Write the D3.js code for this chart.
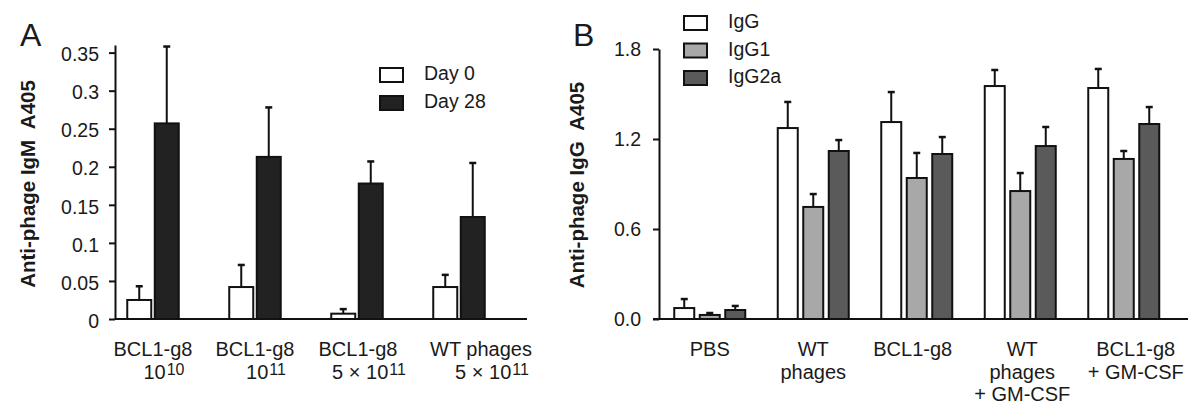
<!DOCTYPE html>
<html>
<head>
<meta charset="utf-8">
<script src="https://cdn.jsdelivr.net/npm/d3@7"></script>
<style>
body { margin: 0; background: #fff; }
svg { display: block; font-family: "Liberation Sans", Arial, sans-serif; }
</style>
</head>
<body>
<div id="chart"></div>
<script>
// Panel A: anti-phage IgM
var categoriesA = ["BCL1-g8|10^10", "BCL1-g8|10^11", "BCL1-g8|5 \u00d7 10^11", "WT phages|5 \u00d7 10^11"];
var seriesA = ["Day 0", "Day 28"];
var day0 = [0.025, 0.042, 0.007, 0.042];
var day0Err = [0.018, 0.029, 0.006, 0.016];
var day28 = [0.257, 0.213, 0.178, 0.134];
var day28Err = [0.101, 0.065, 0.029, 0.071];
var ticksA = [0, 0.05, 0.1, 0.15, 0.2, 0.25, 0.3, 0.35];

// Panel B: anti-phage IgG subclasses
var categoriesB = ["PBS", "WT|phages", "BCL1-g8", "WT|phages|+ GM-CSF", "BCL1-g8|+ GM-CSF"];
var seriesB = ["IgG", "IgG1", "IgG2a"];
var igg = [0.073, 1.273, 1.313, 1.553, 1.54];
var iggErr = [0.06, 0.174, 0.2, 0.107, 0.127];
var igg1 = [0.027, 0.747, 0.94, 0.853, 1.067];
var igg1Err = [0.013, 0.086, 0.167, 0.12, 0.053];
var igg2a = [0.06, 1.12, 1.1, 1.153, 1.3];
var igg2aErr = [0.027, 0.073, 0.113, 0.127, 0.113];
var ticksB = [0, 0.6, 1.2, 1.8];

var baseY = 319;

var svg = d3.select("#chart")
    .append("svg")
    .attr("width", 1200)
    .attr("height", 417);

// write "10^11" style text as base + raised superscript
function addRichText(sel, str) {
    var parts = str.split("^");
    sel.append("tspan").text(parts[0]);
    if (parts.length > 1) {
        sel.append("tspan")
            .attr("dy", -4)
            .attr("dx", 1)
            .style("font-size", "16px")
            .text(parts[1]);
    }
}

function drawPanel(p) {
    var g = svg.append("g");

    var y = d3.scaleLinear()
        .domain(p.yDomain)
        .range([baseY, p.yTop]);

    var x = d3.scaleBand()
        .domain(p.categories)
        .range(p.xRange);

    var n = p.series.length;
    var pad = 1 - p.barW / p.step;
    var sub = d3.scaleBand()
        .domain(p.series)
        .range([-p.step * n / 2, p.step * n / 2])
        .paddingInner(pad)
        .paddingOuter(pad / 2);

    // Bars + error bars
    p.series.forEach(function(s, si) {
        var data = p.categories.map(function(c, ci) {
            return {cat: c, value: p.values[si][ci], err: p.errors[si][ci]};
        });
        var left = function(d) { return x(d.cat) + x.bandwidth() / 2 + sub(s); };
        var mid = function(d) { return left(d) + sub.bandwidth() / 2; };

        g.selectAll(null)
            .data(data)
            .enter()
            .append("line")
            .attr("x1", mid)
            .attr("x2", mid)
            .attr("y1", function(d) { return y(d.value); })
            .attr("y2", function(d) { return y(d.value + d.err); })
            .attr("stroke", "#111")
            .attr("stroke-width", 2);

        g.selectAll(null)
            .data(data)
            .enter()
            .append("line")
            .attr("x1", function(d) { return mid(d) - 3.5; })
            .attr("x2", function(d) { return mid(d) + 3.5; })
            .attr("y1", function(d) { return y(d.value + d.err); })
            .attr("y2", function(d) { return y(d.value + d.err); })
            .attr("stroke", "#111")
            .attr("stroke-width", 2.5);

        g.selectAll(null)
            .data(data)
            .enter()
            .append("rect")
            .attr("x", left)
            .attr("y", function(d) { return y(d.value); })
            .attr("width", sub.bandwidth())
            .attr("height", function(d) { return y(0) - y(d.value); })
            .attr("fill", p.fills[si])
            .attr("stroke", "#111")
            .attr("stroke-width", 2);
    });

    // Y axis
    var axis = g.append("g")
        .attr("transform", "translate(" + p.axisX + ",0)")
        .call(d3.axisLeft(y)
            .tickValues(p.ticks)
            .tickFormat(p.fmt)
            .tickSize(6)
            .tickSizeOuter(0)
            .tickPadding(p.tickPad));
    axis.select(".domain").attr("stroke", "#111").attr("stroke-width", 2);
    axis.selectAll(".tick line").attr("stroke", "#111").attr("stroke-width", 2);
    axis.selectAll(".tick text")
        .attr("font-family", null)
        .attr("dy", p.tickDy)
        .style("font-size", "19.5px")
        .attr("fill", "#1a1a1a");

    // X axis line
    g.append("line")
        .attr("x1", p.xLine[0])
        .attr("x2", p.xLine[1])
        .attr("y1", baseY)
        .attr("y2", baseY)
        .attr("stroke", "#111")
        .attr("stroke-width", 2);

    // Category labels
    p.categories.forEach(function(c, ci) {
        var cx = x(c) + x.bandwidth() / 2 + p.labelShift[ci];
        c.split("|").forEach(function(line, li) {
            var t = g.append("text")
                .attr("x", cx + (li > 0 ? p.line2Shift : 0))
                .attr("y", 356 + li * p.lineH)
                .attr("text-anchor", "middle")
                .style("font-size", "20px")
                .attr("fill", "#1a1a1a");
            addRichText(t, line);
        });
    });

    // Y axis label
    g.append("text")
        .attr("transform", "rotate(-90)")
        .attr("x", -p.yLabelCenter)
        .attr("y", p.yLabelX)
        .attr("text-anchor", "middle")
        .attr("xml:space", "preserve")
        .style("font-size", "20.5px")
        .style("font-weight", "bold")
        .attr("fill", "#1a1a1a")
        .text(p.yLabel);

    // Panel letter
    g.append("text")
        .attr("x", p.letterX)
        .attr("y", 46)
        .style("font-size", "32px")
        .attr("fill", "#1a1a1a")
        .text(p.letter);

    // Legend
    p.series.forEach(function(s, si) {
        var ly = p.legendY + si * p.legendStep;
        g.append("rect")
            .attr("x", p.legendX)
            .attr("y", ly)
            .attr("width", 23)
            .attr("height", 14)
            .attr("fill", p.fills[si])
            .attr("stroke", "#111")
            .attr("stroke-width", 2);
        g.append("text")
            .attr("x", p.legendX + p.legendTextGap)
            .attr("y", ly + 12)
            .style("font-size", "19.5px")
            .attr("fill", "#1a1a1a")
            .text(s);
    });
}

drawPanel({
    categories: categoriesA,
    series: seriesA,
    values: [day0, day28],
    errors: [day0Err, day28Err],
    fills: ["#ffffff", "#222222"],
    yDomain: [0, 0.36],
    yTop: 45,
    ticks: ticksA,
    fmt: function(d) { return String(d); },
    tickPad: 10,
    tickDy: "0.42em",
    xRange: [102, 510],
    step: 27.5,
    barW: 24,
    axisX: 115,
    xLine: [115, 527],
    labelShift: [0, 0, 1, 22],
    line2Shift: 11,
    lineH: 23,
    yLabel: "Anti-phage IgM  A405",
    yLabelCenter: 184,
    yLabelX: 35,
    letter: "A",
    letterX: 20,
    legendX: 380,
    legendY: 68,
    legendStep: 28,
    legendTextGap: 44
});

drawPanel({
    categories: categoriesB,
    series: seriesB,
    values: [igg, igg1, igg2a],
    errors: [iggErr, igg1Err, igg2aErr],
    fills: ["#ffffff", "#a8a8a8", "#5a5a5a"],
    yDomain: [0, 1.8],
    yTop: 49,
    ticks: ticksB,
    fmt: d3.format(".1f"),
    tickPad: 12,
    tickDy: "0.32em",
    xRange: [658, 1175.5],
    step: 25.5,
    barW: 20,
    axisX: 659,
    xLine: [653, 1188],
    labelShift: [0, 0, -4, 2, 12],
    line2Shift: 0,
    lineH: 22.5,
    yLabel: "Anti-phage IgG  A405",
    yLabelCenter: 185,
    yLabelX: 584,
    letter: "B",
    letterX: 573,
    legendX: 684,
    legendY: 16,
    legendStep: 27.5,
    legendTextGap: 44
});
</script>
</body>
</html>
